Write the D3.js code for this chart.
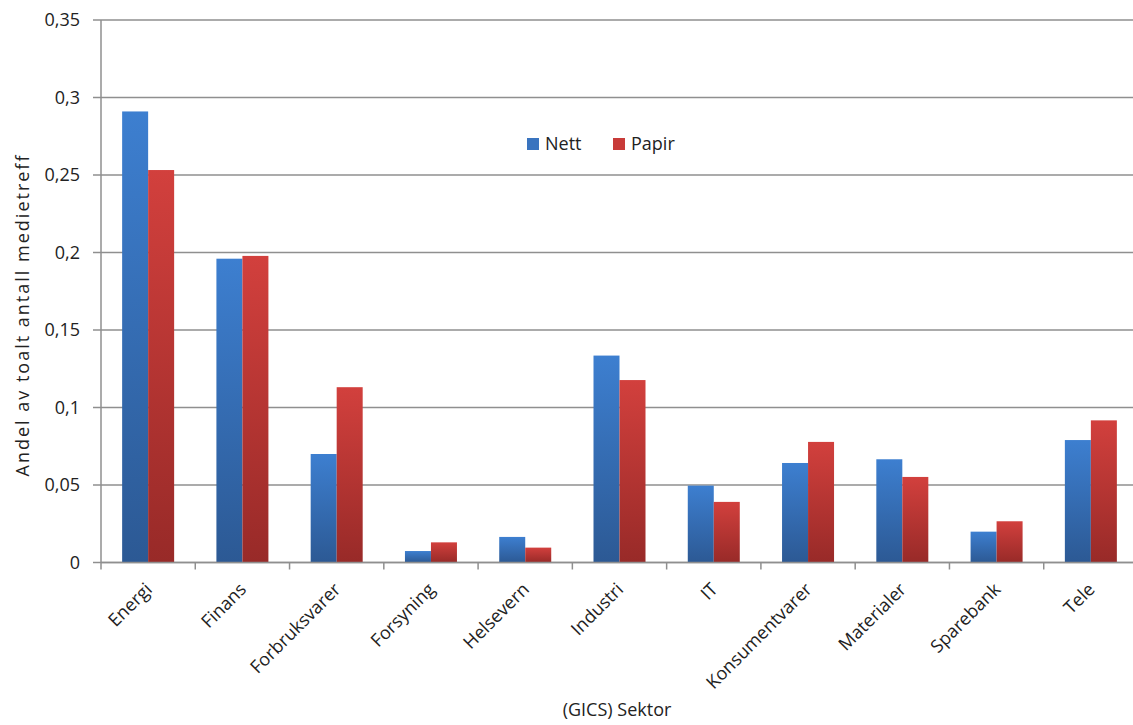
<!DOCTYPE html>
<html lang="no">
<head>
  <meta charset="UTF-8" />
  <title>Andel medietreff per sektor</title>
  <script src="https://d3js.org/d3.v7.min.js"></script>
  <style>
    body {
      margin: 0;
      background: #fff;
      font-family: 'Open Sans', sans-serif;
    }
    svg text {
      fill: #222;
    }
  </style>
</head>
<body>
  <svg id="chart"></svg>

  <script>
    // data
    const categories = ["Energi", "Finans", "Forbruksvarer", "Forsyning", "Helsevern", "Industri",
      "IT", "Konsumentvarer", "Materialer", "Sparebank", "Tele"];
    const nett = [0.291, 0.196, 0.070, 0.0074, 0.0165, 0.1335, 0.0496, 0.0642, 0.0666, 0.0199, 0.079];
    const papir = [0.2532, 0.1978, 0.1131, 0.013, 0.0096, 0.1177, 0.0391, 0.0778, 0.0552, 0.0266, 0.0917];
    const yTicks = [0, 0.05, 0.1, 0.15, 0.2, 0.25, 0.3, 0.35];
    const yTickLabels = ["0", "0,05", "0,1", "0,15", "0,2", "0,25", "0,3", "0,35"];
    const seriesNames = ["Nett", "Papir"];

    const W = 1133, H = 725;
    const plot = { left: 101, right: 1138, top: 20, bottom: 562.5 };

    const svg = d3.select("#chart").attr("width", W).attr("height", H);

    // gradients per bar (top light, bottom dark)
    const defs = svg.append("defs");
    const grads = [
      { id: "gNett", top: "#3d7fd0", bottom: "#2c5994", flat: "#3a74bf" },
      { id: "gPapir", top: "#d2403d", bottom: "#982a28", flat: "#c83b39" }
    ];
    grads.forEach(g => {
      const lg = defs.append("linearGradient").attr("id", g.id)
        .attr("x1", 0).attr("y1", 0).attr("x2", 0).attr("y2", 1);
      lg.append("stop").attr("offset", "0%").attr("stop-color", g.top);
      lg.append("stop").attr("offset", "100%").attr("stop-color", g.bottom);
    });

    const x = d3.scaleBand()
      .domain(categories)
      .range([plot.left, plot.right]);

    const y = d3.scaleLinear()
      .domain([0, 0.35])
      .range([plot.bottom, plot.top]);

    const barW = 26;

    // gridlines
    svg.append("g")
      .selectAll("line")
      .data(yTicks)
      .join("line")
      .attr("x1", plot.left - 8)
      .attr("x2", plot.right)
      .attr("y1", d => y(d))
      .attr("y2", d => y(d))
      .attr("stroke", "#8f8f8f")
      .attr("stroke-width", 1.5);

    // y tick labels
    svg.append("g")
      .selectAll("text")
      .data(yTicks)
      .join("text")
      .attr("x", 80)
      .attr("y", d => y(d))
      .attr("dy", "0.35em")
      .attr("text-anchor", "end")
      .attr("font-size", "18px")
      .text((d, i) => yTickLabels[i]);

    // bars
    const groups = svg.append("g")
      .selectAll("g")
      .data(categories)
      .join("g");

    groups.append("rect")
      .attr("x", d => x(d) + x.bandwidth() / 2 - barW)
      .attr("y", (d, i) => y(nett[i]))
      .attr("width", barW)
      .attr("height", (d, i) => y(0) - y(nett[i]))
      .attr("fill", "url(#gNett)");

    groups.append("rect")
      .attr("x", d => x(d) + x.bandwidth() / 2)
      .attr("y", (d, i) => y(papir[i]))
      .attr("width", barW)
      .attr("height", (d, i) => y(0) - y(papir[i]))
      .attr("fill", "url(#gPapir)");

    // y axis line
    svg.append("line")
      .attr("x1", plot.left).attr("x2", plot.left)
      .attr("y1", plot.top).attr("y2", plot.bottom + 7)
      .attr("stroke", "#8f8f8f")
      .attr("stroke-width", 1.5);

    // x axis line and ticks at band edges
    svg.append("line")
      .attr("x1", plot.left).attr("x2", plot.right)
      .attr("y1", plot.bottom).attr("y2", plot.bottom)
      .attr("stroke", "#8f8f8f")
      .attr("stroke-width", 1.5);

    svg.append("g")
      .selectAll("line")
      .data(categories)
      .join("line")
      .attr("x1", d => x(d) + x.bandwidth())
      .attr("x2", d => x(d) + x.bandwidth())
      .attr("y1", plot.bottom)
      .attr("y2", plot.bottom + 7)
      .attr("stroke", "#8f8f8f")
      .attr("stroke-width", 1.5);

    // category labels, rotated
    svg.append("g")
      .selectAll("text")
      .data(categories)
      .join("text")
      .attr("transform", d => `translate(${x(d) + x.bandwidth() / 2 + 5},${plot.bottom + 28}) rotate(-45)`)
      .attr("text-anchor", "end")
      .attr("font-size", "18px")
      .text(d => d);

    // axis titles
    svg.append("text")
      .attr("x", 617)
      .attr("y", 716)
      .attr("text-anchor", "middle")
      .attr("font-size", "18px")
      .text("(GICS) Sektor");

    svg.append("text")
      .attr("transform", "translate(29,315) rotate(-90)")
      .attr("text-anchor", "middle")
      .attr("font-size", "18px")
      .attr("letter-spacing", "2px")
      .text("Andel av toalt antall medietreff");

    // legend
    const legend = svg.append("g").attr("transform", "translate(527,138)");
    const legendX = [0, 86];
    seriesNames.forEach((name, i) => {
      const item = legend.append("g").attr("transform", `translate(${legendX[i]},0)`);
      item.append("rect")
        .attr("width", 12).attr("height", 12)
        .attr("fill", grads[i].flat);
      item.append("text")
        .attr("x", 18)
        .attr("y", 6)
        .attr("dy", "0.35em")
        .attr("font-size", "18px")
        .text(name);
    });
  </script>
</body>
</html>
